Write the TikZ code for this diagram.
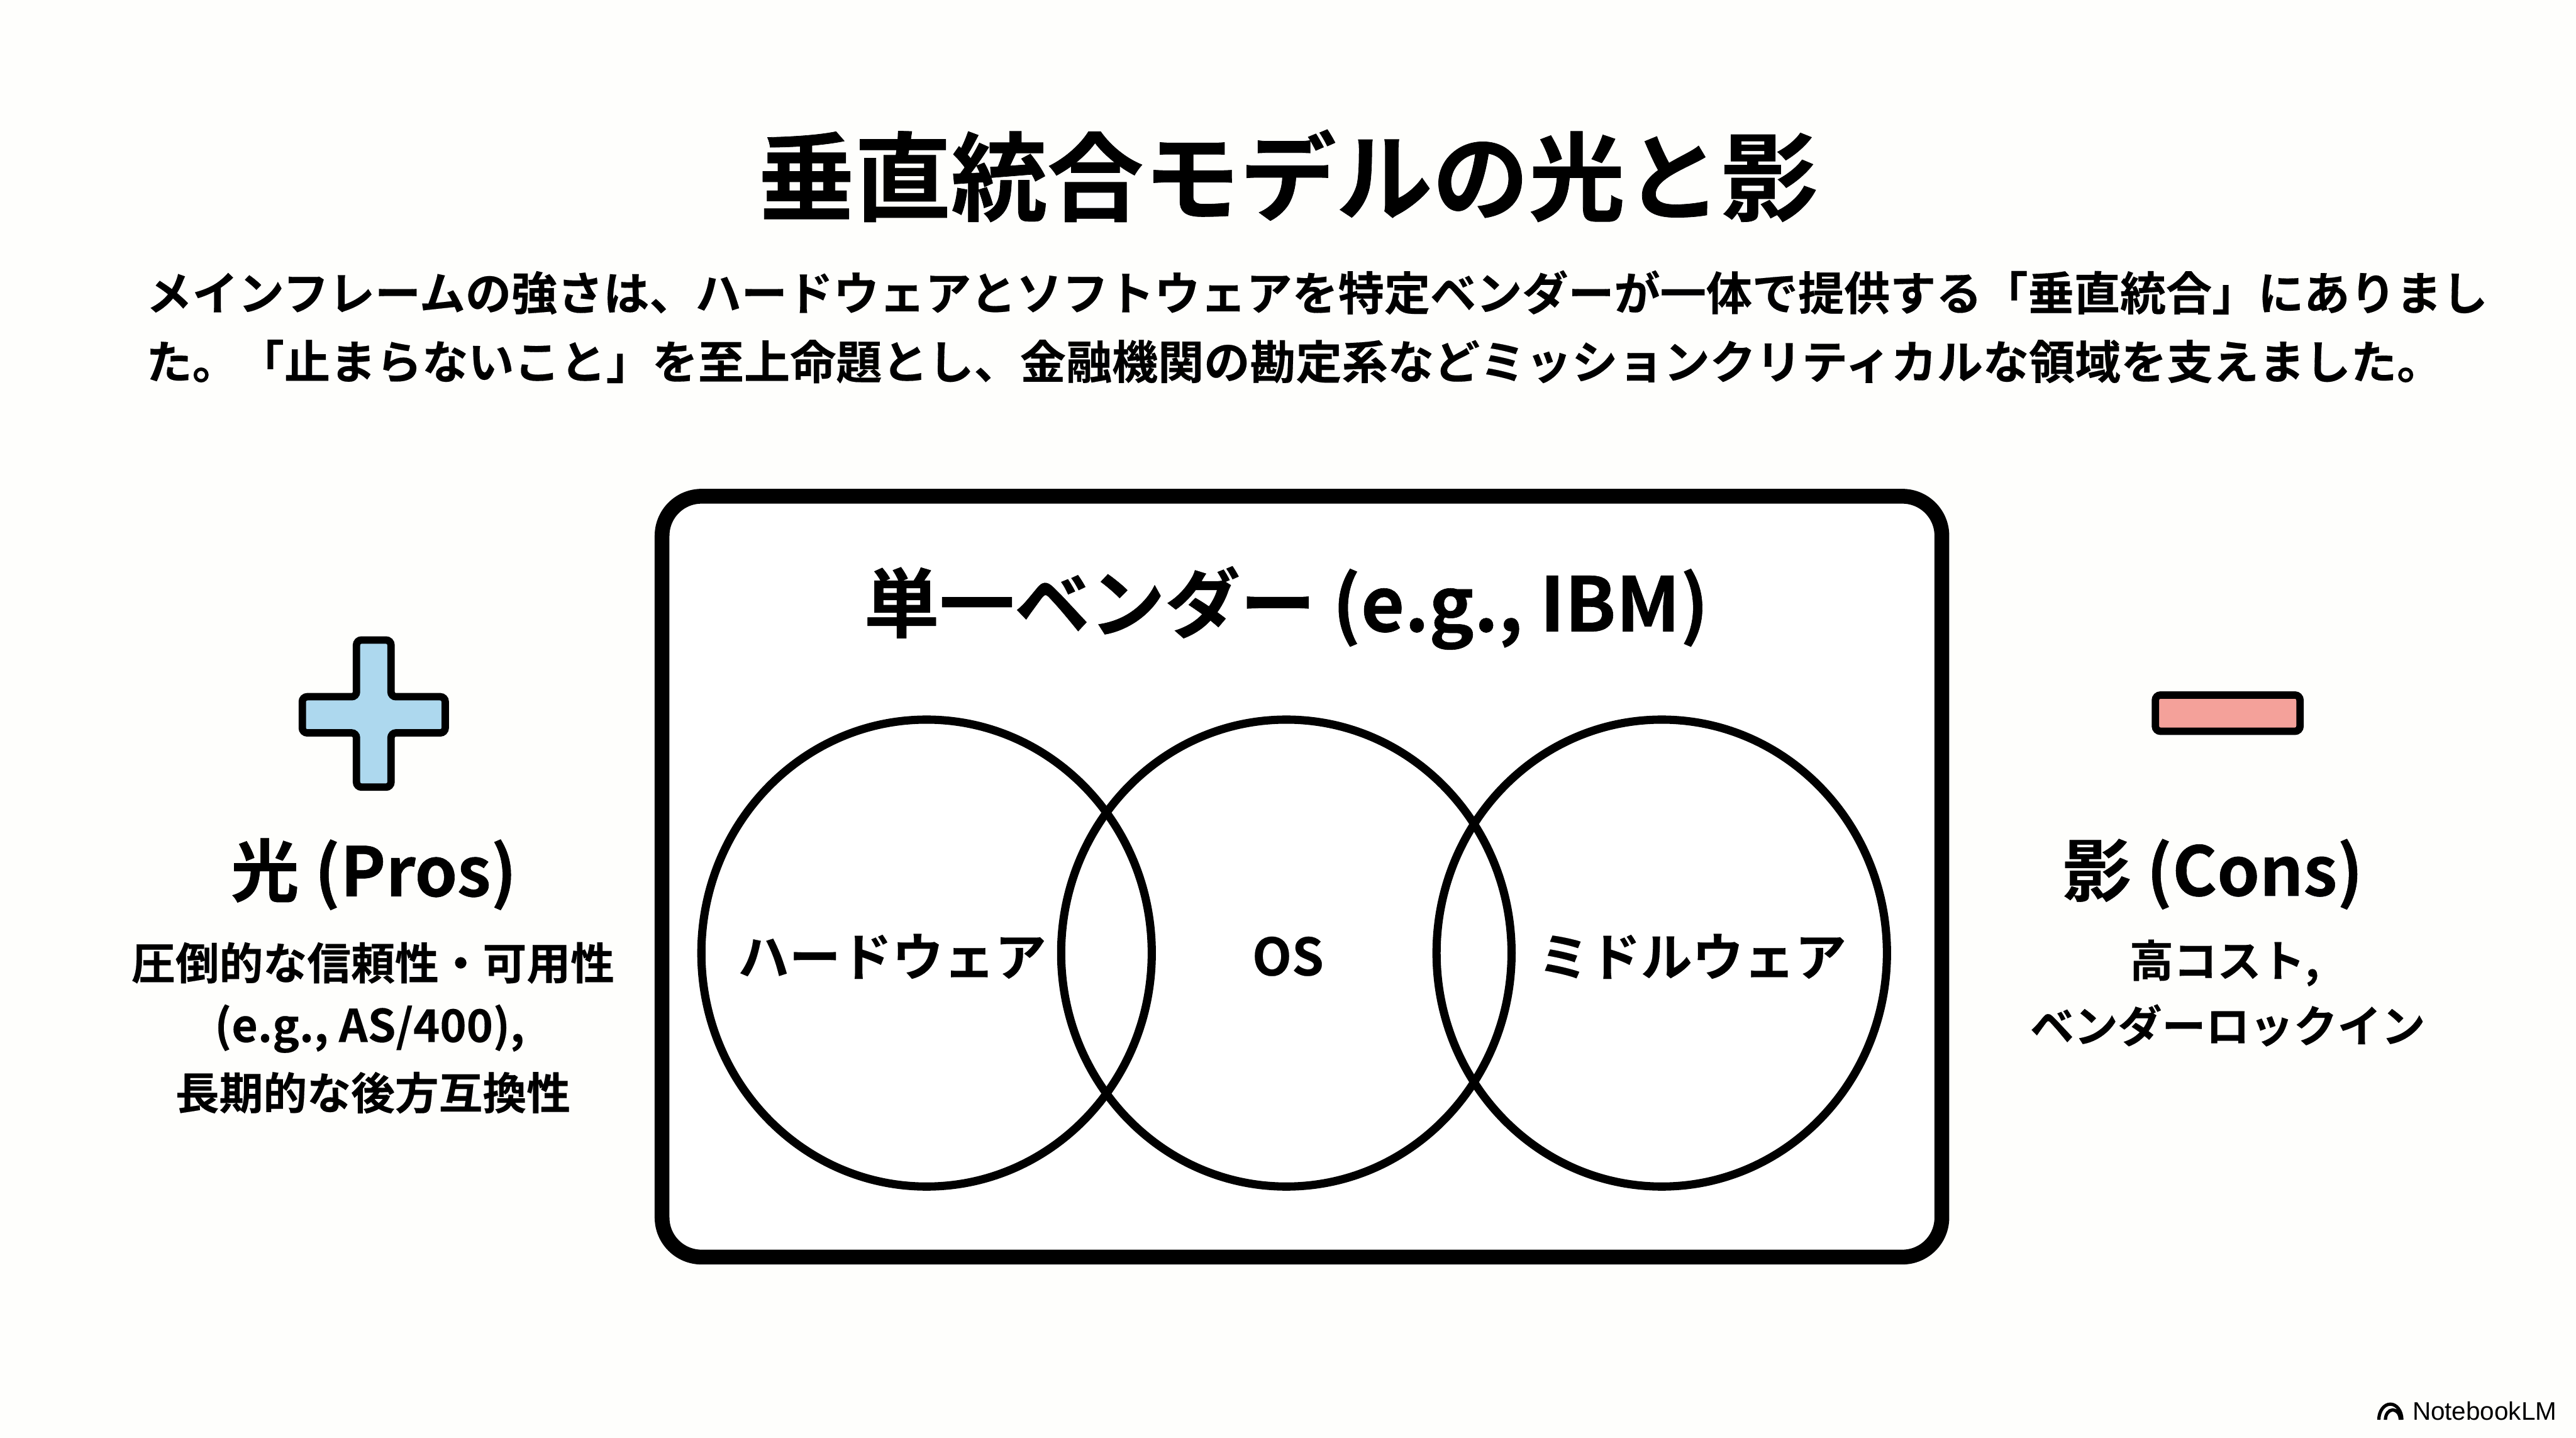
\documentclass[tikz,border=0pt]{standalone}
\usepackage{fontspec}
\setmainfont{Noto Sans CJK JP}[BoldFont={Noto Sans CJK JP Bold}]
\newfontfamily\heavyf{Noto Sans CJK JP Bold}[FakeBold=0.5]
\newfontfamily\semif{Noto Sans CJK JP Bold}[FakeBold=0.25]
\newfontfamily\logofont{Liberation Sans}
\definecolor{bgc}{HTML}{FEFEFC}
\definecolor{plusc}{HTML}{ADD8EE}
\definecolor{minusc}{HTML}{F4A19A}
\tikzset{
  base/.style={inner sep=0pt,outer sep=0pt,text=black,font=\bfseries},
  titlet/.style={base,font=\heavyf\fontsize{16.67pt}{20pt}\selectfont},
  bodyt/.style={base,anchor=west,font=\semif\fontsize{7.96pt}{10pt}\selectfont},
  vendort/.style={base,font=\heavyf\fontsize{13.02pt}{16pt}\selectfont},
  headt/.style={base,font=\heavyf\fontsize{11.8pt}{14pt}\selectfont},
  subt/.style={base,font=\semif\fontsize{7.6pt}{10pt}\selectfont},
  subl/.style={base,font=\semif\fontsize{7.8pt}{10pt}\selectfont},
  venn/.style={base,font=\semif\fontsize{8.9pt}{11pt}\selectfont},
  ring/.style={draw=black,line width=0.05cm,fill=none,ellipse,inner sep=0pt,minimum width=2.74cm,minimum height=2.84cm},
  frame/.style={draw=black,line width=0.09cm,fill=white,rounded corners=0.24cm},
  icon/.style={draw=black,line width=0.045cm,rounded corners=0.03cm},
}
\usetikzlibrary{shapes.geometric}
\begin{document}
\begin{tikzpicture}[x=0.01cm,y=-0.01cm]
\useasboundingbox (0,0) rectangle (1568,875);
\fill[bgc] (0,0) rectangle (1568,875);
\node[titlet] (title) at (784,107) {垂直統合モデルの光と影};
\node[bodyt] (body1) at (89,178) {メインフレームの強さは、ハードウェアとソフトウェアを特定ベンダーが一体で提供する「垂直統合」にありまし};
\node[bodyt] (body2) at (89,220) {た。「止まらないこと」を至上命題とし、金融機関の勘定系などミッションクリティカルな領域を支えました。};
\draw[frame] (403,302) rectangle (1182,765);
\node[vendort] (vendor) at (783,370) {単一ベンダー (e.g., IBM)};
\node[ring] (left) at (564,580) {};
\node[ring] (mid) at (783,580) {};
\node[ring] (right) at (1011.5,580) {};
\node[venn] (hw) at (543,582) {ハードウェア};
\node[venn] (os) at (784,582) {OS};
\node[venn] (mw) at (1030,582) {ミドルウェア};
\draw[icon,fill=plusc] (217,389.5) -- (238,389.5) -- (238,424) -- (271,424) -- (271,446) -- (238,446) -- (238,479) -- (217,479) -- (217,446) -- (184,446) -- (184,424) -- (217,424) -- cycle;
\draw[icon,fill=minusc] (1312,423) rectangle (1400,445);
\node[headt] (pros) at (227.5,532) {光 (Pros)};
\node[subt] (p1) at (227,586) {圧倒的な信頼性・可用性};
\node[subl] (p2) at (225,626) {(e.g., AS/400),};
\node[subt] (p3) at (227,665) {長期的な後方互換性};
\node[headt] (cons) at (1347,532) {影 (Cons)};
\node[subt] (c1) at (1354,586) {高コスト,};
\node[subt] (c2) at (1356,624) {ベンダーロックイン};
\begin{scope}[draw=black]
\draw[line width=0.02cm] (1448,864) arc[start angle=180,end angle=360,x radius=7,y radius=9.5];
\draw[line width=0.02cm] (1452,864) arc[start angle=180,end angle=360,x radius=4.5,y radius=6];
\end{scope}
\node[base,anchor=west,font=\logofont\fontsize{4.4pt}{6pt}\selectfont] (logo) at (1468.5,858.5) {NotebookLM};
\end{tikzpicture}
\end{document}
